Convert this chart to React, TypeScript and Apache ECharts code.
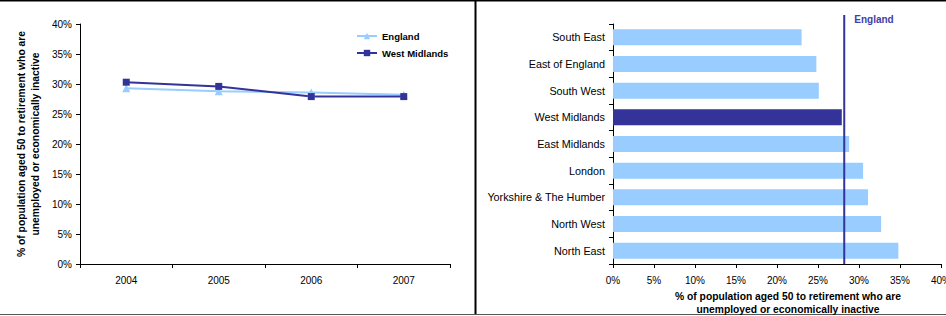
import React, { useEffect, useRef } from "react";
import * as echarts from "echarts";

const years = ["2004", "2005", "2006", "2007"];
const englandTrend = [29.3, 28.8, 28.6, 28.2];
const westMidlandsTrend = [30.3, 29.6, 27.9, 27.9];

const regions = [
  "South East",
  "East of England",
  "South West",
  "West Midlands",
  "East Midlands",
  "London",
  "Yorkshire & The Humber",
  "North West",
  "North East",
];
const regionValues = [23.0, 24.8, 25.1, 27.9, 28.8, 30.5, 31.1, 32.7, 34.8];
const englandAverage = 28.2;
const highlightRegion = "West Midlands";

const axisName = "% of population aged 50 to retirement who are\nunemployed or economically inactive";

const LIGHT = "#99ccff";
const DARK = "#333399";
const FONT = "Liberation Sans, Arial, sans-serif";

export default function App() {
  const ref = useRef<HTMLDivElement>(null);
  useEffect(() => {
    document.body.style.margin = "0";
    const chart = echarts.init(ref.current!, null, { renderer: "svg" });
    const axisLineStyle = { lineStyle: { color: "#000", width: 1 } };
    chart.setOption({
      animation: false,
      textStyle: { fontFamily: FONT },
      grid: [
        { left: 80, top: 24, width: 370, height: 240, outerBoundsMode: "none", containLabel: false },
        { left: 613, top: 24, width: 328, height: 240, outerBoundsMode: "none", containLabel: false },
      ],
      legend: {
        orient: "vertical",
        left: 351,
        top: 26,
        itemWidth: 20,
        itemHeight: 8,
        itemGap: 7,
        textStyle: { fontSize: 9.5, fontWeight: "bold", color: "#000", fontFamily: FONT },
        data: ["England", "West Midlands"],
      },
      xAxis: [
        {
          gridIndex: 0,
          type: "category",
          data: years,
          boundaryGap: true,
          axisLine: axisLineStyle,
          axisTick: { show: true, length: 4, lineStyle: { color: "#000" } },
          axisLabel: { fontSize: 10, color: "#000", margin: 11, fontFamily: FONT },
        },
        {
          gridIndex: 1,
          type: "value",
          min: 0,
          max: 40,
          interval: 5,
          axisLine: { show: true, ...axisLineStyle },
          axisTick: { show: true, length: 4, lineStyle: { color: "#000" } },
          splitLine: { show: false },
          axisLabel: { fontSize: 10, color: "#000", margin: 11, formatter: "{value}%", fontFamily: FONT },
          name: axisName,
          nameLocation: "middle",
          nameGap: 23,
          nameTextStyle: {
            fontSize: 10.3,
            fontWeight: "bold",
            color: "#000",
            lineHeight: 13,
            padding: [0, 0, 0, 22],
            fontFamily: FONT,
          },
        },
      ],
      yAxis: [
        {
          gridIndex: 0,
          type: "value",
          min: 0,
          max: 40,
          interval: 5,
          axisLine: { show: true, ...axisLineStyle },
          axisTick: { show: true, length: 4, lineStyle: { color: "#000" } },
          splitLine: { show: false },
          axisLabel: { fontSize: 10, color: "#000", margin: 8, formatter: "{value}%", fontFamily: FONT },
          name: axisName,
          nameLocation: "middle",
          nameGap: 38,
          nameTextStyle: {
            fontSize: 10.3,
            fontWeight: "bold",
            color: "#000",
            lineHeight: 14,
            fontFamily: FONT,
          },
        },
        {
          gridIndex: 1,
          type: "category",
          data: regions,
          inverse: true,
          axisLine: axisLineStyle,
          axisTick: { show: true, length: 4, lineStyle: { color: "#000" } },
          axisLabel: { fontSize: 10.8, color: "#000", margin: 8, fontFamily: FONT },
        },
      ],
      series: [
        {
          name: "England",
          type: "line",
          xAxisIndex: 0,
          yAxisIndex: 0,
          data: englandTrend,
          symbol: "triangle",
          symbolSize: 8,
          lineStyle: { color: LIGHT, width: 2 },
          itemStyle: { color: LIGHT },
        },
        {
          name: "West Midlands",
          type: "line",
          xAxisIndex: 0,
          yAxisIndex: 0,
          data: westMidlandsTrend,
          symbol: "rect",
          symbolSize: 7,
          lineStyle: { color: DARK, width: 2 },
          itemStyle: { color: DARK },
        },
        {
          name: "Regions",
          type: "bar",
          xAxisIndex: 1,
          yAxisIndex: 1,
          barWidth: "60%",
          data: regions.map((r, i) => ({
            value: regionValues[i],
            itemStyle: { color: r === highlightRegion ? DARK : LIGHT },
          })),
        },
      ],
    });

    const lineX = chart.convertToPixel({ xAxisIndex: 1 }, englandAverage) as number;
    chart.setOption({
      graphic: [
        { type: "line", shape: { x1: 0, y1: 0.75, x2: 946, y2: 0.75 }, style: { stroke: "#000", lineWidth: 1.5 } },
        { type: "line", shape: { x1: 0, y1: 314.5, x2: 946, y2: 314.5 }, style: { stroke: "#555", lineWidth: 1 } },
        { type: "line", shape: { x1: 475.5, y1: 0, x2: 475.5, y2: 314 }, style: { stroke: "#000", lineWidth: 2 } },
        {
          type: "line",
          shape: { x1: lineX, y1: 15, x2: lineX, y2: 264 },
          style: { stroke: DARK, lineWidth: 2 },
          z: 10,
        },
        {
          type: "text",
          x: lineX + 10,
          y: 19,
          style: {
            text: "England",
            fill: "#4040a8",
            font: `bold 10px ${FONT}`,
            verticalAlign: "middle",
          },
          z: 10,
        },
      ],
    });
    return () => chart.dispose();
  }, []);
  return <div ref={ref} style={{ position: "absolute", left: 0, top: 0, width: 946, height: 316 }} />;
}
